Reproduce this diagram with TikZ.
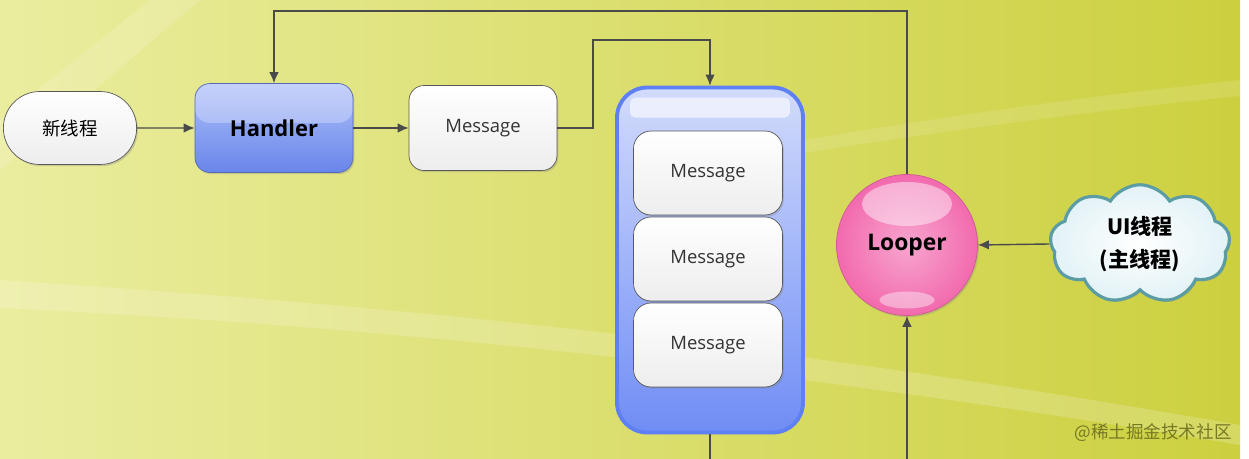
\documentclass[tikz,border=0pt]{standalone}
\usepackage{fontspec}
\setmainfont{Open Sans}
\newfontfamily\cjk{Noto Sans CJK SC}
\usetikzlibrary{arrows.meta,positioning,shapes.misc,shapes.symbols,shadows,calc}
\definecolor{bgl}{HTML}{EAED9E}
\definecolor{bgr}{HTML}{CCD03F}
\definecolor{lnk}{HTML}{4A4A4A}
\definecolor{hblue}{HTML}{6E8DF6}
\definecolor{qedge}{HTML}{5F80F4}
\definecolor{lpink}{HTML}{F26AAE}
\definecolor{cedge}{HTML}{5C9CA4}
\definecolor{cfill}{HTML}{E2F2F6}
\tikzset{
  shd/.style={drop shadow={shadow xshift=0.8pt, shadow yshift=-1pt, opacity=0.3}},
  thr/.style={draw=gray!70!black, rounded rectangle, minimum width=2.9cm,
              minimum height=1.46cm, top color=white, bottom color=gray!14,
              font=\cjk\fontsize{10.5}{12}\selectfont, shd},
  hdl/.style={draw=hblue!75!black, rounded corners=0.3cm, minimum width=3.16cm,
              minimum height=1.78cm, top color=hblue!55!white, bottom color=hblue!95!black,
              font=\bfseries\fontsize{12.5}{14}\selectfont, shd,
              path picture={\fill[white, opacity=0.28]
                (path picture bounding box.north west) rectangle
                ($(path picture bounding box.east)+(0,0.1cm)$);}},
  msg/.style={draw=gray!70!black, rounded corners=0.3cm, minimum width=2.96cm,
              minimum height=1.7cm, top color=white, bottom color=gray!14,
              text=black!80, font=\fontsize{10.5}{12}\selectfont, shd},
  qmsg/.style={msg, minimum width=2.98cm, minimum height=1.68cm, rounded corners=0.35cm},
  queue/.style={draw=qedge, line width=2.2pt, rounded corners=0.6cm,
              minimum width=3.72cm, minimum height=6.9cm,
              top color=qedge!28!white, bottom color=qedge!90!white, shd,
              path picture={\fill[white, opacity=0.6, rounded corners=3pt]
                ($(path picture bounding box.north west)+(0.26cm,-0.2cm)$) rectangle
                ($(path picture bounding box.north east)+(-0.26cm,-0.6cm)$);}},
  loop/.style={circle, draw=lpink!85!black, minimum size=2.82cm,
              inner color=lpink!60!white, outer color=lpink,
              font=\bfseries\fontsize{13}{15}\selectfont, shd,
              path picture={
                \fill[white, opacity=0.45] ($(path picture bounding box.center)+(0,0.82cm)$)
                  ellipse [x radius=0.9cm, y radius=0.44cm];
                \fill[white, opacity=0.4] ($(path picture bounding box.center)+(0,-1.1cm)$)
                  ellipse [x radius=0.55cm, y radius=0.17cm];}},
  ui/.style={cloud, cloud puffs=9, cloud puff arc=115, aspect=1.6,
              draw=cedge, line width=1.8pt, inner color=white, outer color=cfill,
              minimum width=3.6cm, minimum height=2.25cm, align=center,
              font=\cjk\bfseries\fontsize{12}{19}\selectfont, shd},
  flow/.style={-{Latex[length=2.2mm, width=1.9mm]}, draw=lnk, line width=0.8pt},
  wire/.style={draw=lnk, line width=0.8pt},
}

\begin{document}
\begin{tikzpicture}[x=0.02cm, y=-0.02cm]
  \useasboundingbox (0,0) rectangle (1249,459);
  % background
  \fill[white] (0,0) rectangle (1249,459);
  \shade[left color=bgl, right color=bgr] (0,0) rectangle (1240,459);
  \fill[white, opacity=0.18] (0,280) .. controls (300,300) and (700,330) .. (1240,425)
    -- (1240,445) .. controls (700,355) and (300,322) .. (0,308) -- cycle;
  \fill[white, opacity=0.15] (0,120) -- (150,0) -- (200,0) -- (0,170) -- cycle;
  \fill[white, opacity=0.12] (640,170) .. controls (900,120) and (1100,95) .. (1240,80)
    -- (1240,96) .. controls (1100,110) and (900,135) .. (640,180) -- cycle;
  % nodes
  \node[thr] (nt) at (70,128) {新线程};
  \node[hdl] (hd) at (274,128) {Handler};
  \node[msg] (m0) at (483,128) {Message};
  \node[queue] (q) at (710,260) {};
  \node[qmsg] (m1) at (708,173) {Message};
  \node[qmsg] (m2) at (708,259) {Message};
  \node[qmsg] (m3) at (708,345) {Message};
  \node[loop] (lp) at (907,245) {Looper};
  \node[ui] (ui) at (1140,244) {UI线程\\(主线程)};
  % bends and free ends
  \coordinate (jA) at (593,40);
  \coordinate (jB) at (907,11);
  \coordinate (qo) at (710,459);
  \coordinate (li) at (907,459);
  % connectors
  \draw[flow] (nt) -- (hd);
  \draw[flow] (hd) -- (m0);
  \draw[flow] (m0.east) -| (jA) -| (q.north);
  \draw[flow] (lp.north) -- (jB) -| (hd.north);
  \draw[flow] (ui.west) -- (lp.east);
  \draw[wire] (q.south) -- (qo);
  \draw[flow] (li) -- (lp.south);
  % watermark
  \node[font=\cjk\fontsize{10}{12}\selectfont, text=black!42!bgr] (wm) at (1153,433) {@稀土掘金技术社区};
\end{tikzpicture}
\end{document}
